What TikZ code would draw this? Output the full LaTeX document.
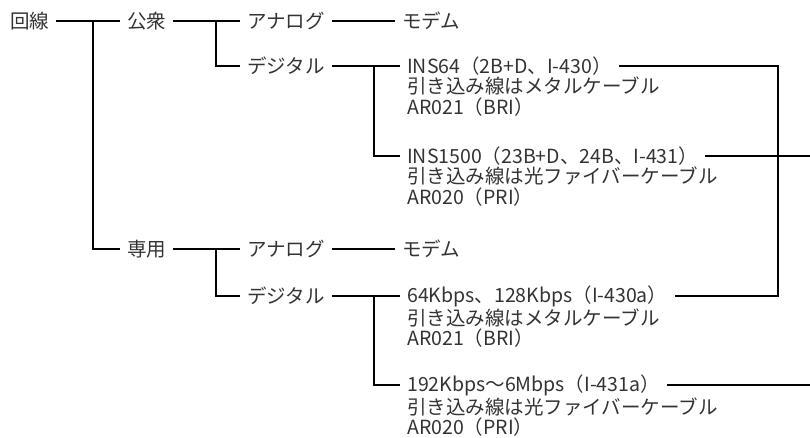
\documentclass[tikz,border=0pt]{standalone}
\usepackage{fontspec}
\newfontfamily\jpfont{Noto Sans CJK JP}
\usetikzlibrary{positioning}

\tikzset{
    item/.style={anchor=west, inner xsep=7pt, inner ysep=0pt,
        font=\jpfont\fontsize{19.5}{23}\selectfont, text=black!80},
    subitem/.style={item, below=1.5pt of #1.south west, anchor=north west},
    branch/.style={line width=2.2pt}
}

\begin{document}
\begin{tikzpicture}[x=1pt, y=-1pt]
    \useasboundingbox (0,0) rectangle (810,438);
    % junctions
    \coordinate (j0) at (93,21);
    \coordinate (j1) at (216,21);
    \coordinate (j2) at (216,249);
    \coordinate (j3) at (374,66);
    \coordinate (j4) at (374,296);
    \coordinate (r1) at (778,66);
    \coordinate (edge) at (810,0);
    % first level
    \node[item] (kaisen) at (3,21) {回線};
    \node[item] (kousyu) at (120,21) {公衆};
    \node[item] (senyou) at (120,249) {専用};
    % public
    \node[item] (ana1) at (240,21) {アナログ};
    \node[item] (modem1) at (395,21) {モデム};
    \node[item] (dig1) at (240,66) {デジタル};
    \node[item] (ins64) at (400,66) {INS64（2B+D、I-430）};
    \node[subitem=ins64] (ins64b) {引き込み線はメタルケーブル};
    \node[subitem=ins64b] (ins64c) {AR021（BRI）};
    \node[item] (ins1500) at (400,156) {INS1500（23B+D、24B、I-431）};
    \node[subitem=ins1500] (ins1500b) {引き込み線は光ファイバーケーブル};
    \node[subitem=ins1500b] (ins1500c) {AR020（PRI）};
    % leased
    \node[item] (ana2) at (240,249) {アナログ};
    \node[item] (modem2) at (395,249) {モデム};
    \node[item] (dig2) at (240,296) {デジタル};
    \node[item] (kb64) at (400,296) {64Kbps、128Kbps（I-430a）};
    \node[subitem=kb64] (kb64b) {引き込み線はメタルケーブル};
    \node[subitem=kb64b] (kb64c) {AR021（BRI）};
    \node[item] (kb192) at (400,385) {192Kbps〜6Mbps（I-431a）};
    \node[subitem=kb192] (kb192b) {引き込み線は光ファイバーケーブル};
    \node[subitem=kb192b] (kb192c) {AR020（PRI）};
    % tree lines
    \draw[branch] (kaisen.east) to (kousyu.west);
    \draw[branch] (j0) |- (senyou.west);
    \draw[branch] (kousyu.east) to (ana1.west);
    \draw[branch] (j1) |- (dig1.west);
    \draw[branch] (senyou.east) to (ana2.west);
    \draw[branch] (j2) |- (dig2.west);
    \draw[branch] (ana1.east) to (modem1.west);
    \draw[branch] (ana2.east) to (modem2.west);
    \draw[branch] (dig1.east) to (ins64.west);
    \draw[branch] (j3) |- (ins1500.west);
    \draw[branch] (dig2.east) to (kb64.west);
    \draw[branch] (j4) |- (kb192.west);
    % right side
    \draw[branch] (ins64.east) to (r1) |- (kb64.east);
    \draw[branch] (ins1500.east) to (ins1500.east -| edge);
    \draw[branch] (kb192.east) to (kb192.east -| edge);
\end{tikzpicture}
\end{document}
